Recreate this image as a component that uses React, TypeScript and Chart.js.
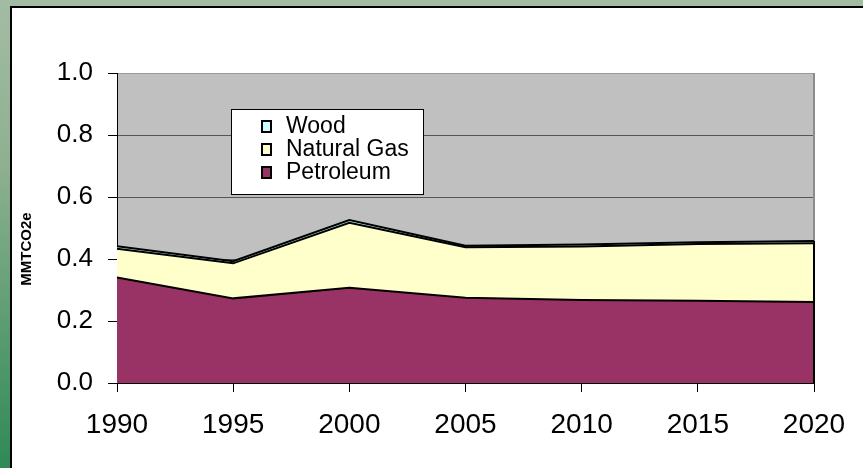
import React, { useEffect, useRef } from 'react';
import { Chart, registerables } from 'chart.js';

Chart.register(...registerables);

const years = ['1990', '1995', '2000', '2005', '2010', '2015', '2020'];
const petroleum = [0.34, 0.273, 0.307, 0.275, 0.268, 0.265, 0.261];
const naturalGas = [0.093, 0.113, 0.21, 0.163, 0.172, 0.183, 0.19];
const wood = [0.008, 0.007, 0.009, 0.005, 0.007, 0.006, 0.007];
const yAxisTitle = 'MMTCO2e';

const FONT = '"Liberation Sans", Arial, Helvetica, sans-serif';

const plotBgPlugin = {
  id: 'plotBg',
  beforeDraw(chart: any) {
    const { ctx, chartArea } = chart;
    ctx.save();
    ctx.fillStyle = '#C0C0C0';
    ctx.fillRect(chartArea.left, chartArea.top, chartArea.right - chartArea.left, chartArea.bottom - chartArea.top);
    ctx.restore();
  },
  beforeDatasetsDraw(chart: any) {
    const { ctx, chartArea } = chart;
    ctx.save();
    ctx.strokeStyle = '#8c8c8c';
    ctx.lineWidth = 2;
    ctx.beginPath();
    ctx.moveTo(chartArea.right, chartArea.top);
    ctx.lineTo(chartArea.right, chartArea.bottom);
    ctx.stroke();
    ctx.restore();
  },
  afterDatasetsDraw(chart: any) {
    const { ctx, scales } = chart;
    const last = years.length - 1;
    const total = petroleum[last] + naturalGas[last] + wood[last];
    const x = scales.x.getPixelForValue(last);
    ctx.save();
    ctx.strokeStyle = '#000';
    ctx.lineWidth = 2;
    ctx.beginPath();
    ctx.moveTo(x, scales.y.getPixelForValue(0));
    ctx.lineTo(x, scales.y.getPixelForValue(total));
    ctx.stroke();
    ctx.restore();
  },
};

const titlePlugin = {
  id: 'yTitle',
  afterDraw(chart: any) {
    const { ctx } = chart;
    ctx.save();
    ctx.translate(27, 249);
    ctx.rotate(-Math.PI / 2);
    ctx.font = `bold 15px ${FONT}`;
    ctx.fillStyle = '#000';
    ctx.textAlign = 'center';
    ctx.textBaseline = 'middle';
    ctx.fillText(yAxisTitle, 0, 0);
    ctx.restore();
  },
};

const legendPlugin = {
  id: 'boxLegend',
  afterDraw(chart: any) {
    const { ctx } = chart;
    const bx = 231, by = 109, bw = 192, bh = 85;
    ctx.save();
    ctx.fillStyle = '#fff';
    ctx.fillRect(bx, by, bw, bh);
    ctx.strokeStyle = '#000';
    ctx.lineWidth = 1;
    ctx.strokeRect(bx + 0.5, by + 0.5, bw, bh);
    const items = chart.data.datasets
      .map((d: any) => ({ label: d.label, color: d.backgroundColor }))
      .reverse();
    ctx.font = `23px ${FONT}`;
    ctx.textBaseline = 'alphabetic';
    ctx.textAlign = 'left';
    items.forEach((it: any, i: number) => {
      const base = 133 + i * 23;
      ctx.fillStyle = it.color;
      ctx.fillRect(262, base - 12, 9, 11);
      ctx.strokeStyle = '#000';
      ctx.lineWidth = 2;
      ctx.strokeRect(262, base - 12, 9, 11);
      ctx.fillStyle = '#000';
      ctx.fillText(it.label, 286, base);
    });
    ctx.restore();
  },
};

export default function App() {
  const ref = useRef<HTMLCanvasElement | null>(null);

  useEffect(() => {
    if (!ref.current) return;
    const chart = new Chart(ref.current, {
      type: 'line',
      data: {
        labels: years,
        datasets: [
          {
            label: 'Petroleum',
            data: petroleum,
            backgroundColor: '#993366',
            borderColor: '#000',
            borderWidth: 2,
            fill: 'origin',
            pointRadius: 0,
            tension: 0,
          },
          {
            label: 'Natural Gas',
            data: naturalGas,
            backgroundColor: '#FFFFCC',
            borderColor: '#000',
            borderWidth: 2,
            fill: '-1',
            pointRadius: 0,
            tension: 0,
          },
          {
            label: 'Wood',
            data: wood,
            backgroundColor: '#CCFFFF',
            borderColor: '#000',
            borderWidth: 2,
            fill: '-1',
            pointRadius: 0,
            tension: 0,
          },
        ],
      },
      options: {
        responsive: false,
        animation: false,
        events: [],
        layout: { padding: { left: 0, top: 73, right: 49, bottom: 35 } },
        plugins: {
          legend: { display: false },
          tooltip: { enabled: false },
          title: { display: false },
        },
        scales: {
          x: {
            type: 'category',
            offset: false,
            afterFit: (s: any) => { s.height = 50; },
            grid: {
              drawOnChartArea: false,
              drawTicks: true,
              tickLength: 9,
              tickColor: '#000',
            },
            border: { display: true, color: '#000', width: 1 },
            ticks: {
              color: '#000',
              padding: 16,
              font: { family: FONT, size: 28 },
              maxRotation: 0,
              autoSkip: false,
            },
          },
          y: {
            stacked: true,
            min: 0,
            max: 1,
            afterFit: (s: any) => { s.width = 117; },
            grid: {
              color: (c: any) => {
                const v = c.tick ? c.tick.value : 0;
                if (v === 0) return 'rgba(0,0,0,0)';
                if (Math.abs(v - 1) < 1e-6) return '#9a9a9a';
                return '#555555';
              },
              lineWidth: 1,
              drawTicks: true,
              tickLength: 9,
              tickColor: '#000',
            },
            border: { display: true, color: '#000', width: 1 },
            ticks: {
              stepSize: 0.2,
              color: '#000',
              padding: 15,
              font: { family: FONT, size: 26 },
              callback: (v: any) => Number(v).toFixed(1),
            },
          },
        },
      },
      plugins: [plotBgPlugin, titlePlugin, legendPlugin],
    });
    return () => chart.destroy();
  }, []);

  return (
    <div
      style={{
        position: 'absolute',
        left: 0,
        top: 0,
        width: 863,
        height: 468,
        overflow: 'hidden',
        background: 'linear-gradient(to bottom, #a2bca3 0%, #8fb190 35%, #2f8a55 100%)',
      }}
    >
      <div
        style={{
          position: 'absolute',
          left: 10,
          top: 6,
          width: 900,
          height: 500,
          background: '#fff',
          borderLeft: '2px solid #000',
          borderTop: '2px solid #000',
        }}
      />
      <canvas
        ref={ref}
        width={863}
        height={468}
        style={{ position: 'absolute', left: 0, top: 0, width: 863, height: 468 }}
      />
    </div>
  );
}
